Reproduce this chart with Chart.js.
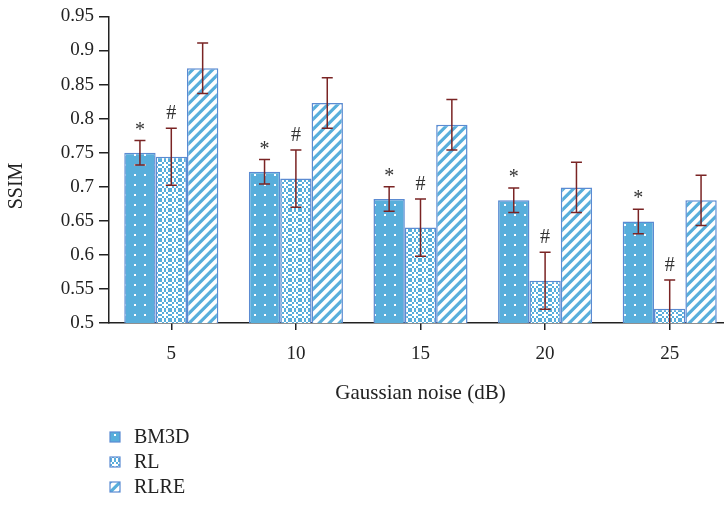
<!DOCTYPE html>
<html>
<head>
<meta charset="utf-8">
<script src="https://cdn.jsdelivr.net/npm/chart.js@4.4.1/dist/chart.umd.min.js"></script>
<style>
html,body{margin:0;padding:0;background:#fff;overflow:hidden;width:724px;height:505px;}
#wrap{position:absolute;left:0;top:0;width:736px;height:505px;}
</style>
</head>
<body>
<div id="wrap"><canvas id="c" width="736" height="505"></canvas></div>
<script>
const categories = ['5', '10', '15', '20', '25'];
const seriesNames = ['BM3D', 'RL', 'RLRE'];
const bm3d = [0.750, 0.722, 0.682, 0.680, 0.649];
const rl = [0.744, 0.712, 0.640, 0.562, 0.521];
const rlre = [0.874, 0.823, 0.791, 0.699, 0.680];
const bm3dErr = [0.018, 0.018, 0.018, 0.018, 0.018];
const rlErr = [0.042, 0.042, 0.042, 0.042, 0.042];
const rlreErr = [0.037, 0.037, 0.037, 0.037, 0.037];
const markers = ['*', '#', ''];
const yTicks = [0.5, 0.55, 0.6, 0.65, 0.7, 0.75, 0.8, 0.85, 0.9, 0.95];
const yTickLabels = ['0.5', '0.55', '0.6', '0.65', '0.7', '0.75', '0.8', '0.85', '0.9', '0.95'];
const xTitle = 'Gaussian noise (dB)';
const yTitle = 'SSIM';

const BLUE = '#58aedb';
const BORDER = '#5b8bd2';
const FONT = '"Liberation Serif", "Times New Roman", serif';

function makeTile(w, h, draw) {
  const c = document.createElement('canvas');
  c.width = w; c.height = h;
  draw(c.getContext('2d'));
  return document.getElementById('c').getContext('2d').createPattern(c, 'repeat');
}
const patBM3D = makeTile(10, 10, g => {
  g.fillStyle = BLUE; g.fillRect(0, 0, 10, 10);
  g.fillStyle = '#ffffff'; g.fillRect(4, 4, 2, 2);
});
const patRL = makeTile(10, 10, g => {
  g.fillStyle = '#ffffff'; g.fillRect(0, 0, 10, 10);
  g.fillStyle = BLUE;
  for (let y = 0; y < 10; y += 2) for (let x = 0; x < 10; x += 2) {
    if (((x + y) / 2) % 2 === 0) g.fillRect(x, y, 2, 2);
  }
  g.fillStyle = '#ffffff'; g.fillRect(4, 4, 2, 2);
});
const patRLRE = makeTile(10, 10, g => {
  g.fillStyle = '#ffffff'; g.fillRect(0, 0, 10, 10);
  g.fillStyle = BLUE;
  g.beginPath();
  for (const o of [-10, 0, 10]) {
    g.moveTo(o + 0, 10); g.lineTo(o + 4.5, 10); g.lineTo(o + 14.5, 0); g.lineTo(o + 10, 0); g.closePath();
  }
  g.fill();
});
const patterns = [patBM3D, patRL, patRLRE];
const values = [bm3d, rl, rlre];
const errors = [bm3dErr, rlErr, rlreErr];

const extras = {
  id: 'extras',
  afterDatasetsDraw(chart) {
    const ctx = chart.ctx, ys = chart.scales.y, area = chart.chartArea;
    ctx.save();
    ctx.beginPath();
    ctx.rect(area.left, area.top - 40, area.right - area.left, area.bottom - area.top + 40);
    ctx.clip();
    chart.data.datasets.forEach((ds, i) => {
      const meta = chart.getDatasetMeta(i);
      meta.data.forEach((bar, j) => {
        const v = values[i][j], e = errors[i][j];
        const x = bar.x;
        const yt = ys.getPixelForValue(v + e);
        const yb = ys.getPixelForValue(v - e);
        ctx.strokeStyle = '#7a2424';
        ctx.lineWidth = 1.5;
        ctx.beginPath();
        ctx.moveTo(x, yt); ctx.lineTo(x, yb);
        ctx.moveTo(x - 5.5, yt); ctx.lineTo(x + 5.5, yt);
        if (yb <= area.bottom) { ctx.moveTo(x - 5.5, yb); ctx.lineTo(x + 5.5, yb); }
        ctx.stroke();
        if (markers[i]) {
          ctx.fillStyle = '#333';
          ctx.font = '20px ' + FONT;
          ctx.textAlign = 'center';
          ctx.textBaseline = 'middle';
          ctx.fillText(markers[i], x, yt - (markers[i] === '*' ? 10 : 14));
        }
      });
    });
    ctx.restore();
  },
  afterDraw(chart) {
    const ctx = chart.ctx;
    ctx.save();
    ctx.translate(17, 186);
    ctx.rotate(-Math.PI / 2);
    ctx.fillStyle = '#222';
    ctx.font = '20px ' + FONT;
    ctx.textAlign = 'center';
    ctx.textBaseline = 'middle';
    ctx.fillText(yTitle, 0, 0);
    ctx.restore();
    ctx.save();
    chart.data.datasets.forEach((ds, i) => {
      const cy = 437 + i * 25;
      ctx.fillStyle = ds.backgroundColor;
      ctx.fillRect(110, cy - 5, 10, 10);
      ctx.strokeStyle = BORDER;
      ctx.lineWidth = 1.2;
      ctx.strokeRect(110, cy - 5, 10, 10);
      ctx.fillStyle = '#222';
      ctx.font = '20px ' + FONT;
      ctx.textAlign = 'left';
      ctx.textBaseline = 'middle';
      ctx.fillText(ds.label, 134, cy + 1);
    });
    ctx.restore();
  }
};

new Chart(document.getElementById('c'), {
  type: 'bar',
  data: {
    labels: categories,
    datasets: seriesNames.map((n, i) => ({
      label: n,
      data: values[i],
      backgroundColor: patterns[i],
      borderColor: BORDER,
      borderWidth: 1.5,
      borderSkipped: 'bottom',
      categoryPercentage: 0.755,
      barPercentage: 1.0
    }))
  },
  options: {
    responsive: false,
    animation: false,
    layout: { padding: { top: 15, right: 4, left: 0, bottom: 0 } },
    plugins: { legend: { display: false }, tooltip: { enabled: false } },
    scales: {
      x: {
        afterFit(s) { s.height = 182; },
        grid: { display: true, drawOnChartArea: false, drawTicks: true, tickLength: 7, offset: false, color: '#222', lineWidth: 1.5 },
        border: { display: true, color: '#222', width: 1.5 },
        ticks: { color: '#222', font: { family: FONT, size: 19 }, padding: 13 },
        title: { display: true, text: xTitle, color: '#222', font: { family: FONT, size: 21 }, padding: { top: 0, bottom: 99 } }
      },
      y: {
        min: 0.5, max: 0.95,
        afterFit(s) { s.width = 109; },
        afterBuildTicks(s) { s.ticks = yTicks.map(v => ({ value: v })); },
        grid: { display: true, drawOnChartArea: false, drawTicks: true, tickLength: 10, color: '#222', lineWidth: 1.5 },
        border: { display: true, color: '#222', width: 1.5 },
        ticks: {
          color: '#222', font: { family: FONT, size: 19 }, padding: 5,
          callback(v) { const k = yTicks.findIndex(t => Math.abs(t - v) < 1e-6); return k >= 0 ? yTickLabels[k] : ''; }
        }
      }
    }
  },
  plugins: [extras]
});
</script>
</body>
</html>
